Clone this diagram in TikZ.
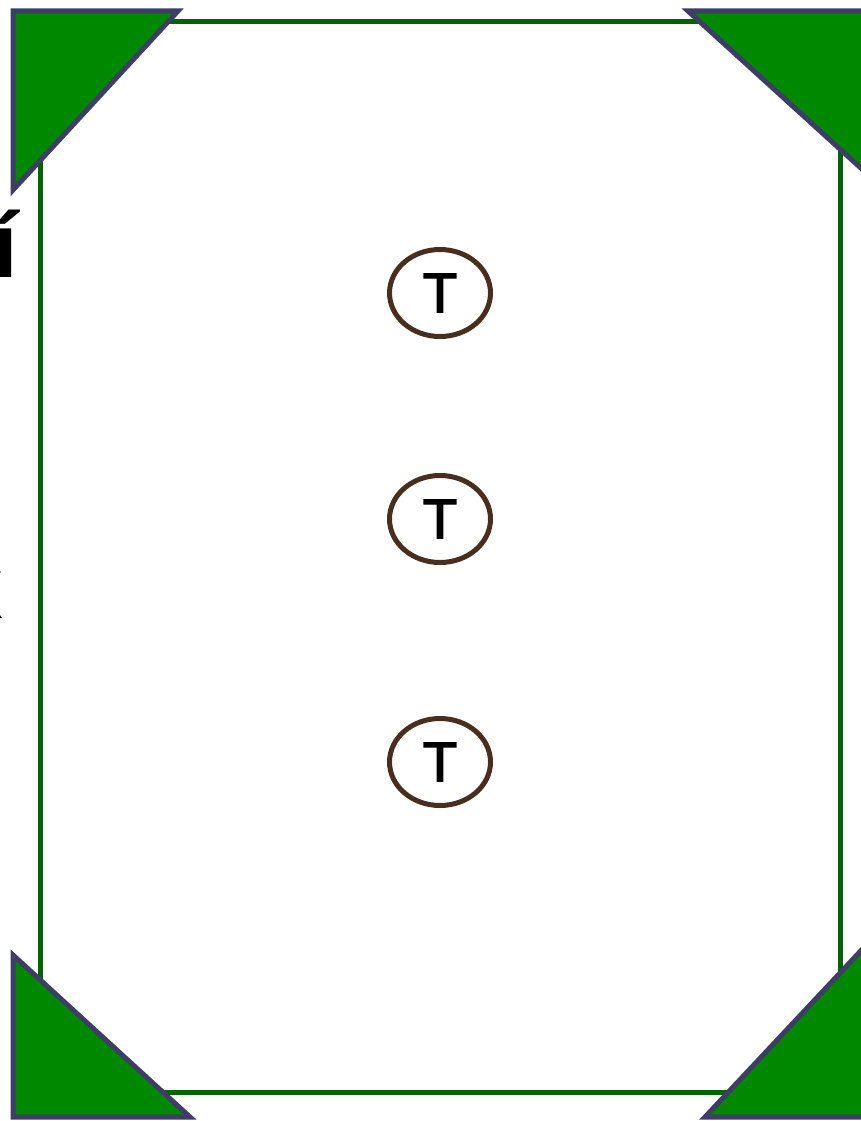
\documentclass[tikz,border=0pt]{standalone}
\usepackage{fontspec}
\setmainfont{Liberation Sans}
\newfontfamily\tfont[FakeBold=2.5]{Liberation Sans}
\usepackage{xcolor}
\usetikzlibrary{shapes.geometric}

\definecolor{framegreen}{RGB}{0,100,0}
\definecolor{cornerfill}{RGB}{0,136,0}
\definecolor{cornerline}{RGB}{61,61,102}
\definecolor{tbrown}{RGB}{72,46,30}

\begin{document}
\begin{tikzpicture}[x=1pt, y=-1pt,
    corner/.style={fill=cornerfill, draw=cornerline, line width=5pt, line join=miter},
    tnode/.style={ellipse, draw=tbrown, line width=5pt, minimum width=101pt, minimum height=87pt,
        inner sep=0pt, font=\tfont\fontsize{56}{60}\selectfont}]
    \useasboundingbox (0,0) rectangle (861,1121);

    % frame
    \draw[framegreen, line width=5pt] (40,22) rectangle (840,1092);

    % corner triangles
    \draw[corner] (13,11) -- (178,11) -- (13,190) -- cycle;
    \draw[corner] (688,11) -- (885,11) -- (885,190) -- cycle;
    \draw[corner] (13,955) -- (190,1117) -- (13,1117) -- cycle;
    \draw[corner] (705,1117) -- (885,1117) -- (885,925) -- cycle;

    % text cut by the left edge
    \node[anchor=base east, inner sep=0pt, font=\bfseries\fontsize{92}{96}\selectfont] (cuttop) at (18,277) {í};
    \node[anchor=base east, inner sep=0pt, font=\fontsize{88}{92}\selectfont] (cutlow) at (4,618) {x};

    % T nodes
    \node[tnode] (t1) at (440,293) {T};
    \node[tnode] (t2) at (440,519) {T};
    \node[tnode] (t3) at (440,762) {T};
\end{tikzpicture}
\end{document}
